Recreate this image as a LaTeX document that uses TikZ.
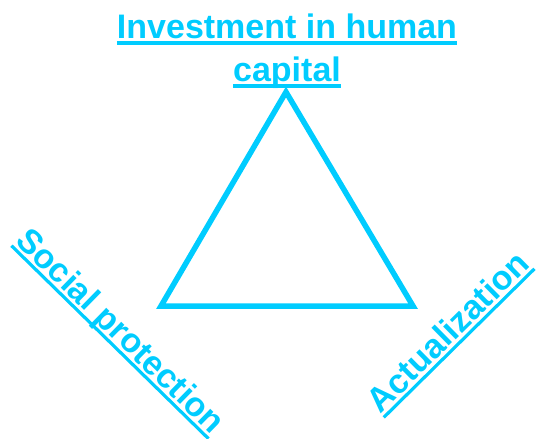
\documentclass[tikz,border=0pt]{standalone}
\usepackage{fontspec}
\setmainfont{Liberation Sans}
\usepackage{tikz}
\usetikzlibrary{positioning}
\definecolor{skyline}{RGB}{0,204,255}
% underlined text with a thick rule under the whole box
\newcommand{\ulbox}[1]{\leavevmode\setbox0\hbox{#1}\rlap{\rule[-6pt]{\wd0}{3.2pt}}\box0}

\begin{document}
\begin{tikzpicture}[x=1pt, y=-1pt,
    tag/.style={text=skyline, font=\fontsize{34}{43}\selectfont\bfseries, inner sep=0pt, align=center},
    edge/.style={draw=skyline, line width=5.5pt}]
    \useasboundingbox (0,0) rectangle (536,439);
    % Triangle corners
    \coordinate (apex) at (286,92);
    \coordinate (left) at (161,306);
    \coordinate (right) at (413,306);
    \draw[edge] (apex) -- (right) -- (left) -- cycle;
    % Top label (base anchor sits on the last line)
    \node[tag, anchor=base] (invest) at (287,81.5) {\ulbox{Investment in human}\\\ulbox{capital}};
    % Side labels, running along the corners
    \node[tag, anchor=base, rotate=-44.4] (social) at (113,339) {\ulbox{Social protection}};
    \node[tag, anchor=base, rotate=44.6] (actual) at (456,340) {\ulbox{Actualization}};
\end{tikzpicture}
\end{document}
